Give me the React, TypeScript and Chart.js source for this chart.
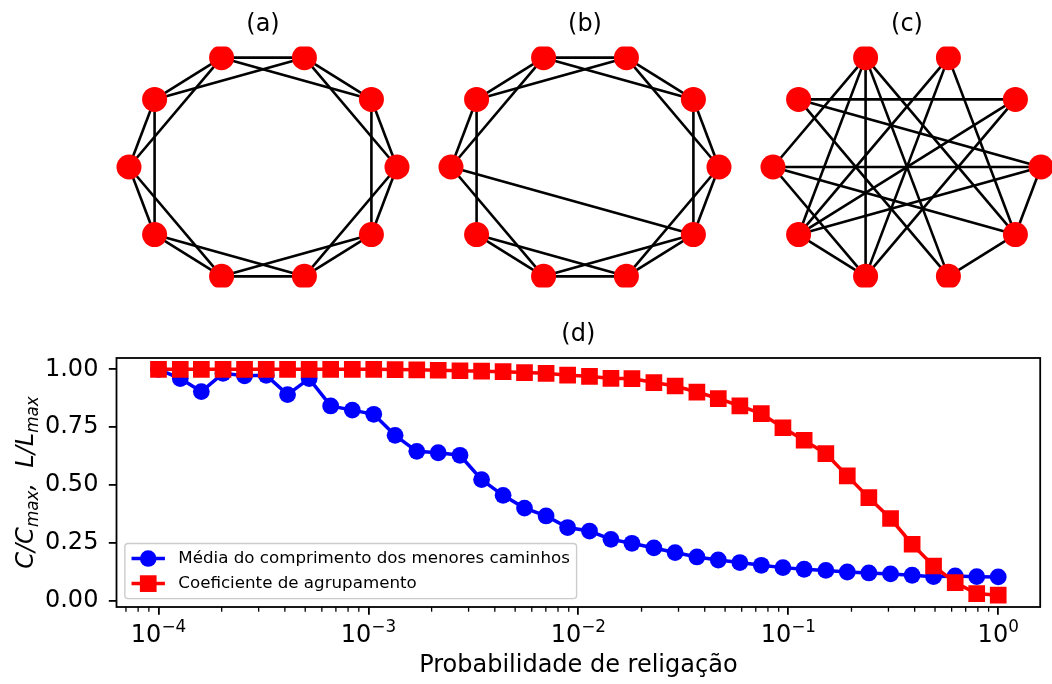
import React, { useEffect, useRef } from 'react';
import { Chart, registerables } from 'chart.js';

Chart.register(...registerables);

const FONT = "'DejaVu Sans', sans-serif";

// ---------- network panels (a), (b), (c) ----------
const panelTitles = ['(a)', '(b)', '(c)'];
const nodeIds = [0, 1, 2, 3, 4, 5, 6, 7, 8, 9];
const edgesA: [number, number][] = [
  [0, 1], [0, 2], [1, 2], [1, 3], [2, 3], [2, 4], [3, 4], [3, 5], [4, 5], [4, 6],
  [5, 6], [5, 7], [6, 7], [6, 8], [7, 8], [7, 9], [8, 9], [8, 0], [9, 0], [9, 1],
];
const edgesB: [number, number][] = [
  [0, 1], [0, 2], [1, 2], [1, 3], [2, 3], [2, 4], [3, 4], [3, 5], [4, 5], [4, 6],
  [5, 9], [5, 7], [6, 7], [6, 8], [7, 8], [7, 9], [8, 9], [8, 0], [9, 0], [9, 1],
];
const edgesC: [number, number][] = [
  [4, 1], [4, 0], [4, 8], [3, 5], [3, 6], [3, 7], [3, 8], [3, 9], [2, 6], [2, 7],
  [2, 9], [1, 6], [1, 7], [0, 6], [0, 9], [5, 0], [5, 9], [5, 7], [6, 7], [8, 9],
];
const panelEdges = [edgesA, edgesB, edgesC];
const panelCenters = [263, 585.2, 907.4];

// ---------- panel (d) ----------
const probabilities = [
  1.0e-4, 1.27e-4, 1.6e-4, 2.03e-4, 2.57e-4, 3.26e-4, 4.12e-4, 5.22e-4, 6.61e-4, 8.38e-4,
  1.06e-3, 1.34e-3, 1.7e-3, 2.15e-3, 2.73e-3, 3.46e-3, 4.38e-3, 5.54e-3, 7.02e-3, 8.89e-3,
  1.13e-2, 1.43e-2, 1.8e-2, 2.29e-2, 2.89e-2, 3.67e-2, 4.64e-2, 5.88e-2, 7.44e-2, 9.43e-2,
  0.119, 0.151, 0.191, 0.242, 0.307, 0.389, 0.492, 0.624, 0.79, 1.0,
];
const pathLength = [
  1.0, 0.96, 0.904, 0.983, 0.972, 0.974, 0.891, 0.96, 0.842, 0.824,
  0.806, 0.715, 0.646, 0.64, 0.629, 0.524, 0.456, 0.401, 0.367, 0.317,
  0.302, 0.266, 0.249, 0.229, 0.209, 0.19, 0.177, 0.166, 0.154, 0.144,
  0.137, 0.132, 0.125, 0.121, 0.117, 0.111, 0.105, 0.108, 0.105, 0.104,
];
const clustering = [
  1.0, 1.0, 1.0, 1.0, 1.0, 1.0, 1.0, 1.0, 1.0, 1.0,
  1.0, 0.999, 0.998, 0.996, 0.994, 0.992, 0.99, 0.986, 0.983, 0.975,
  0.97, 0.961, 0.96, 0.943, 0.928, 0.902, 0.874, 0.842, 0.809, 0.748,
  0.694, 0.636, 0.54, 0.446, 0.356, 0.245, 0.151, 0.079, 0.032, 0.025,
];
const seriesLabels = ['Média do comprimento dos menores caminhos', 'Coeficiente de agrupamento'];
const xTickValues = [1e-4, 1e-3, 1e-2, 1e-1, 1];
const xTickBase = '10';
const xTickExponents = ['−4', '−3', '−2', '−1', '0'];
const yTickValues = [0, 0.25, 0.5, 0.75, 1.0];
const yTickLabels = ['0.00', '0.25', '0.50', '0.75', '1.00'];
const minorDecades = [1e-5, 1e-4, 1e-3, 1e-2, 1e-1, 1];
const minorMultipliers = [2, 3, 4, 5, 6, 7, 8, 9];
const yTitleParts: [string, boolean][] = [
  ['C/C', false], ['max', true], [',  ', false], ['L/L', false], ['max', true],
];
const bottomTitle = '(d)';

const TICK_FONT = 24;
const LEGEND_FONT = 16.7;

function NetworkPanel({ index }: { index: number }) {
  const ref = useRef<HTMLCanvasElement>(null);
  useEffect(() => {
    if (!ref.current) return;
    const n = nodeIds.length;
    const pos = (i: number) => ({
      x: Math.cos((2 * Math.PI * i) / n),
      y: Math.sin((2 * Math.PI * i) / n),
    });
    const edgeSets = panelEdges[index].map(([a, b]) => ({
      data: [pos(a), pos(b)],
      showLine: true,
      borderColor: '#000000',
      borderWidth: 2.6,
      pointRadius: 0,
      order: 1,
      clip: 0,
    }));
    const chart = new Chart(ref.current, {
      type: 'scatter',
      data: {
        datasets: [
          ...edgeSets,
          {
            data: nodeIds.map(pos),
            pointRadius: 12.5,
            pointBackgroundColor: '#ff0000',
            pointBorderWidth: 0,
            order: 0,
            clip: 0,
          } as any,
        ],
      },
      options: {
        animation: false,
        responsive: false,
        events: [],
        layout: { padding: { left: 13.6, right: 13.6, top: 0, bottom: 4.5 } },
        scales: {
          x: { type: 'linear', min: -1.1, max: 1.1, display: false },
          y: { type: 'linear', min: -1.048, max: 1.048, display: false },
        },
        plugins: {
          legend: { display: false },
          tooltip: { enabled: false },
          title: {
            display: true,
            text: panelTitles[index],
            color: '#000000',
            font: { family: FONT, size: 24, weight: 'normal' },
            padding: { top: 10.6, bottom: 7.1 },
          },
        },
      } as any,
    });
    return () => chart.destroy();
  }, [index]);
  return (
    <canvas
      ref={ref}
      width={322}
      height={300}
      style={{ position: 'absolute', left: panelCenters[index] - 161, top: 0, width: 322, height: 300 }}
    />
  );
}

const decorPlugin = {
  id: 'decor',
  afterDatasetsDraw(chart: any) {
    const { ctx, chartArea: ca, scales } = chart;
    const xs = scales.x;
    ctx.save();
    // minor ticks on log axis
    ctx.strokeStyle = '#000000';
    ctx.lineWidth = 1.3;
    for (const d of minorDecades) {
      for (const m of minorMultipliers) {
        const px = xs.getPixelForValue(d * m);
        if (px < ca.left || px > ca.right) continue;
        ctx.beginPath();
        ctx.moveTo(px, ca.bottom);
        ctx.lineTo(px, ca.bottom + 4.7);
        ctx.stroke();
      }
    }
    // frame
    ctx.lineWidth = 1.8;
    ctx.strokeRect(ca.left, ca.top, ca.right - ca.left, ca.bottom - ca.top);

    // legend
    const fs = LEGEND_FONT;
    ctx.font = `${fs}px ${FONT}`;
    const pad = 0.4 * fs;
    const handleLen = 2 * fs;
    const handlePad = 0.8 * fs;
    const rowGap = 0.5 * fs;
    const datasets = chart.data.datasets;
    const order = [0, 1];
    const textW = Math.max(...order.map((i) => ctx.measureText(datasets[i].label).width));
    const boxW = pad + handleLen + handlePad + textW + pad;
    const boxH = 2 * pad + 2 * fs + rowGap;
    const bx = ca.left + 0.5 * fs;
    const by = ca.bottom - 0.5 * fs - boxH;
    const r = 0.2 * fs;
    ctx.beginPath();
    ctx.moveTo(bx + r, by);
    ctx.lineTo(bx + boxW - r, by);
    ctx.arcTo(bx + boxW, by, bx + boxW, by + r, r);
    ctx.lineTo(bx + boxW, by + boxH - r);
    ctx.arcTo(bx + boxW, by + boxH, bx + boxW - r, by + boxH, r);
    ctx.lineTo(bx + r, by + boxH);
    ctx.arcTo(bx, by + boxH, bx, by + boxH - r, r);
    ctx.lineTo(bx, by + r);
    ctx.arcTo(bx, by, bx + r, by, r);
    ctx.closePath();
    ctx.fillStyle = 'rgba(255,255,255,0.8)';
    ctx.fill();
    ctx.strokeStyle = '#cccccc';
    ctx.lineWidth = 1.4;
    ctx.stroke();

    order.forEach((di, row) => {
      const ds = datasets[di];
      const cy = by + pad + fs / 2 + row * (fs + rowGap);
      const hx = bx + pad;
      ctx.strokeStyle = ds.borderColor;
      ctx.lineWidth = ds.borderWidth;
      ctx.beginPath();
      ctx.moveTo(hx, cy);
      ctx.lineTo(hx + handleLen, cy);
      ctx.stroke();
      ctx.fillStyle = ds.pointBackgroundColor;
      const mx = hx + handleLen / 2;
      if (ds.pointStyle === 'rect') {
        const side = 16.7;
        ctx.fillRect(mx - side / 2, cy - side / 2, side, side);
      } else {
        ctx.beginPath();
        ctx.arc(mx, cy, 8.3, 0, Math.PI * 2);
        ctx.fill();
      }
      ctx.fillStyle = '#000000';
      ctx.textAlign = 'left';
      ctx.textBaseline = 'middle';
      ctx.fillText(ds.label, hx + handleLen + handlePad, cy);
    });
    ctx.restore();
  },
  afterDraw(chart: any) {
    const { ctx, chartArea: ca, scales } = chart;
    ctx.save();
    ctx.fillStyle = '#000000';

    // panel title (centred over the axes)
    ctx.font = `24px ${FONT}`;
    ctx.textAlign = 'center';
    ctx.textBaseline = 'middle';
    ctx.fillText(bottomTitle, (ca.left + ca.right) / 2, 35);

    // x tick labels with superscripts
    const mainFont = `${TICK_FONT}px ${FONT}`;
    const supSize = TICK_FONT * 0.7;
    const supFont = `${supSize}px ${FONT}`;
    ctx.textAlign = 'left';
    ctx.textBaseline = 'alphabetic';
    const baseY = ca.bottom + 34.5;
    xTickValues.forEach((v, i) => {
      const px = scales.x.getPixelForValue(v);
      ctx.font = mainFont;
      const wb = ctx.measureText(xTickBase).width;
      ctx.font = supFont;
      const we = ctx.measureText(xTickExponents[i]).width;
      const x0 = px - (wb + we) / 2;
      ctx.font = mainFont;
      ctx.fillText(xTickBase, x0, baseY);
      ctx.font = supFont;
      ctx.fillText(xTickExponents[i], x0 + wb, baseY - 9.5);
    });

    // y axis title with subscripts
    const mainSize = 24;
    const subSize = 16.8;
    const yMain = `italic ${mainSize}px ${FONT}`;
    const ySub = `italic ${subSize}px ${FONT}`;
    let total = 0;
    const widths = yTitleParts.map(([t, sub]) => {
      ctx.font = sub ? ySub : yMain;
      const w = ctx.measureText(t).width;
      total += w;
      return w;
    });
    ctx.translate(33.3, (ca.top + ca.bottom) / 2);
    ctx.rotate(-Math.PI / 2);
    ctx.textAlign = 'left';
    ctx.textBaseline = 'alphabetic';
    let x = -total / 2;
    yTitleParts.forEach(([t, sub], i) => {
      ctx.font = sub ? ySub : yMain;
      ctx.fillText(t, x, sub ? 5 : 0);
      x += widths[i];
    });
    ctx.restore();
  },
};

function ResultPanel() {
  const ref = useRef<HTMLCanvasElement>(null);
  useEffect(() => {
    if (!ref.current) return;
    const chart = new Chart(ref.current, {
      type: 'scatter',
      data: {
        datasets: [
          {
            label: seriesLabels[0],
            data: probabilities.map((p, i) => ({ x: p, y: pathLength[i] })),
            showLine: true,
            borderColor: '#0000ff',
            borderWidth: 3.5,
            pointStyle: 'circle',
            pointRadius: 8.4,
            pointBackgroundColor: '#0000ff',
            pointBorderWidth: 0,
            order: 2,
          },
          {
            label: seriesLabels[1],
            data: probabilities.map((p, i) => ({ x: p, y: clustering[i] })),
            showLine: true,
            borderColor: '#ff0000',
            borderWidth: 3.5,
            pointStyle: 'rect',
            pointRadius: 11.8,
            pointBackgroundColor: '#ff0000',
            pointBorderWidth: 0,
            order: 1,
          },
        ],
      },
      options: {
        animation: false,
        responsive: false,
        events: [],
        layout: { padding: { left: 0, right: 3, top: 58, bottom: 0 } },
        scales: {
          x: {
            type: 'logarithmic',
            min: Math.pow(10, -4.2),
            max: Math.pow(10, 0.2),
            afterBuildTicks: (s: any) => {
              s.ticks = xTickValues.map((v) => ({ value: v }));
            },
            afterFit: (s: any) => {
              s.height = 77;
            },
            ticks: { display: false },
            grid: {
              display: true,
              drawOnChartArea: false,
              drawTicks: true,
              tickLength: 7.7,
              color: '#000000',
              lineWidth: 1.8,
            },
            border: { display: false },
            title: {
              display: true,
              text: 'Probabilidade de religação',
              color: '#000000',
              font: { family: FONT, size: TICK_FONT },
              padding: { top: 0, bottom: 4 },
            },
          },
          y: {
            type: 'linear',
            min: -0.026,
            max: 1.049,
            afterBuildTicks: (s: any) => {
              s.ticks = yTickValues.map((v) => ({ value: v }));
            },
            afterFit: (s: any) => {
              s.width = 116.5;
            },
            ticks: {
              color: '#000000',
              padding: 10.4,
              font: { family: FONT, size: TICK_FONT },
              callback: (_v: any, i: number) => yTickLabels[i],
            },
            grid: {
              display: true,
              drawOnChartArea: false,
              drawTicks: true,
              tickLength: 7.7,
              color: '#000000',
              lineWidth: 1.8,
            },
            border: { display: false },
          },
        },
        plugins: {
          legend: { display: false },
          tooltip: { enabled: false },
          title: { display: false },
        },
      } as any,
      plugins: [decorPlugin],
    });
    return () => chart.destroy();
  }, []);
  return (
    <canvas
      ref={ref}
      width={1052}
      height={384}
      style={{ position: 'absolute', left: 0, top: 300, width: 1052, height: 384 }}
    />
  );
}

export default function App() {
  return (
    <div
      style={{
        position: 'absolute',
        left: 0,
        top: 0,
        width: 1052,
        height: 684,
        overflow: 'hidden',
        background: '#ffffff',
      }}
    >
      <NetworkPanel index={0} />
      <NetworkPanel index={1} />
      <NetworkPanel index={2} />
      <ResultPanel />
    </div>
  );
}
